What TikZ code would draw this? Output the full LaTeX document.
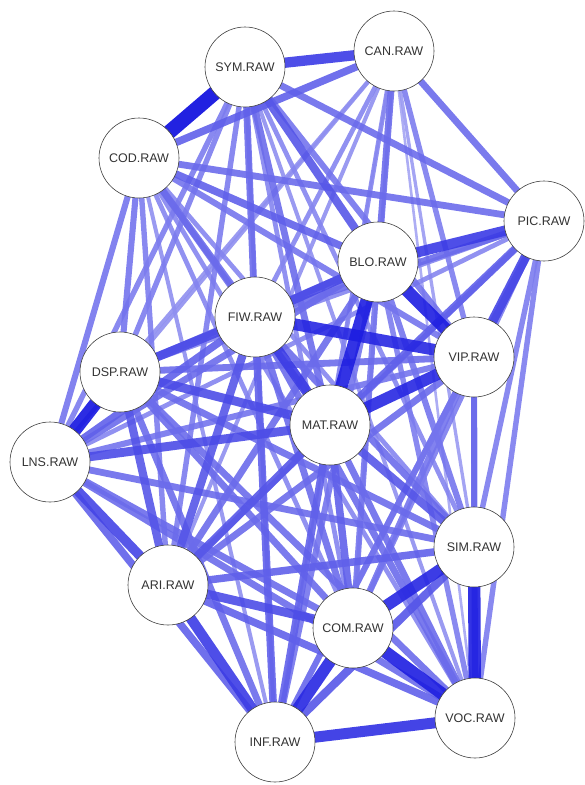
\documentclass[tikz,border=0pt]{standalone}
\usepackage{fontspec}
\setmainfont{Liberation Sans}
\usetikzlibrary{backgrounds}
\definecolor{deep}{RGB}{10,10,222}
\definecolor{pale}{RGB}{200,200,248}
\begin{document}
\begin{tikzpicture}[x=1pt,y=-1pt,
  var/.style={circle, draw=black!75, line width=0.6pt, fill=white,
    minimum size=80pt, inner sep=0pt, text=black!80,
    font=\fontsize{12.5}{14}\selectfont}]
\useasboundingbox (0,0) rectangle (585,785);
% variables
\node[var] (SYM) at (245,67)  {SYM.RAW};
\node[var] (CAN) at (394,51)  {CAN.RAW};
\node[var] (COD) at (139,158) {COD.RAW};
\node[var] (PIC) at (544,221) {PIC.RAW};
\node[var] (BLO) at (378,262) {BLO.RAW};
\node[var] (FIW) at (255,317) {FIW.RAW};
\node[var] (DSP) at (120,372) {DSP.RAW};
\node[var] (VIP) at (474,357) {VIP.RAW};
\node[var] (MAT) at (330,425) {MAT.RAW};
\node[var] (LNS) at (50,462)  {LNS.RAW};
\node[var] (SIM) at (474,547) {SIM.RAW};
\node[var] (ARI) at (168,585) {ARI.RAW};
\node[var] (COM) at (353,628) {COM.RAW};
\node[var] (VOC) at (475,718) {VOC.RAW};
\node[var] (INF) at (275,742) {INF.RAW};
% weighted connections, weakest first
\begin{pgfonlayer}{background}
\foreach \a/\b/\w in {
  CAN/VOC/.15, CAN/INF/.15,
  CAN/SIM/.2, CAN/COM/.2,
  CAN/DSP/.25, CAN/LNS/.25, CAN/ARI/.25, SYM/VOC/.25, SYM/INF/.25, COD/INF/.25,
  CAN/FIW/.3, CAN/MAT/.3, SYM/SIM/.3, SYM/COM/.3, COD/SIM/.3, COD/COM/.3,
  COD/VOC/.3, PIC/DSP/.3, PIC/LNS/.3,
  CAN/VIP/.35, SYM/DSP/.35, SYM/LNS/.35, SYM/ARI/.35, COD/ARI/.35, PIC/ARI/.35,
  PIC/SIM/.35, PIC/COM/.35, PIC/VOC/.35, PIC/INF/.35, BLO/VOC/.35,
  SYM/VIP/.4, COD/VIP/.4, COD/MAT/.4, COD/DSP/.4, COD/LNS/.4, BLO/SIM/.4,
  BLO/COM/.4, BLO/INF/.4, VIP/LNS/.4, VIP/COM/.4, VIP/VOC/.4, VIP/INF/.4,
  SYM/PIC/.45, SYM/FIW/.45, SYM/MAT/.45, CAN/PIC/.45, CAN/BLO/.45, COD/PIC/.45,
  COD/FIW/.45, PIC/FIW/.45, BLO/DSP/.45, BLO/LNS/.45, BLO/ARI/.45, VIP/DSP/.45,
  VIP/ARI/.45, VIP/SIM/.45, FIW/SIM/.45, FIW/COM/.45, FIW/VOC/.45, MAT/VOC/.45,
  DSP/SIM/.45, DSP/COM/.45, DSP/VOC/.45, DSP/INF/.45, LNS/SIM/.45, LNS/COM/.45,
  LNS/VOC/.45,
  CAN/COD/.5, COD/BLO/.5, PIC/MAT/.5, FIW/LNS/.5, FIW/INF/.5, MAT/COM/.5,
  MAT/INF/.5, LNS/INF/.5, ARI/SIM/.5, ARI/VOC/.5,
  SYM/BLO/.55, FIW/ARI/.55, MAT/ARI/.55, MAT/SIM/.55, DSP/ARI/.55, SIM/INF/.55,
  BLO/FIW/.6, FIW/DSP/.6, MAT/DSP/.6, MAT/LNS/.6, ARI/COM/.6,
  PIC/VIP/.65, LNS/ARI/.65,
  SYM/CAN/.7, PIC/BLO/.7, FIW/MAT/.7, ARI/INF/.7,
  VOC/INF/.75,
  FIW/VIP/.8, VIP/MAT/.8, SIM/COM/.8, COM/INF/.8,
  BLO/VIP/.85, BLO/MAT/.85, SIM/VOC/.85, COM/VOC/.85,
  DSP/LNS/.9,
  SYM/COD/1.0} {
  \pgfmathsetmacro\lw{0.5+14*\w}
  \pgfmathtruncatemacro\pc{min(100,5+100*\w)}
  \draw[line width=\lw pt, draw=deep!\pc!pale, draw opacity=0.9]
    (\a.center) -- (\b.center);
}
\end{pgfonlayer}
\end{tikzpicture}
\end{document}
